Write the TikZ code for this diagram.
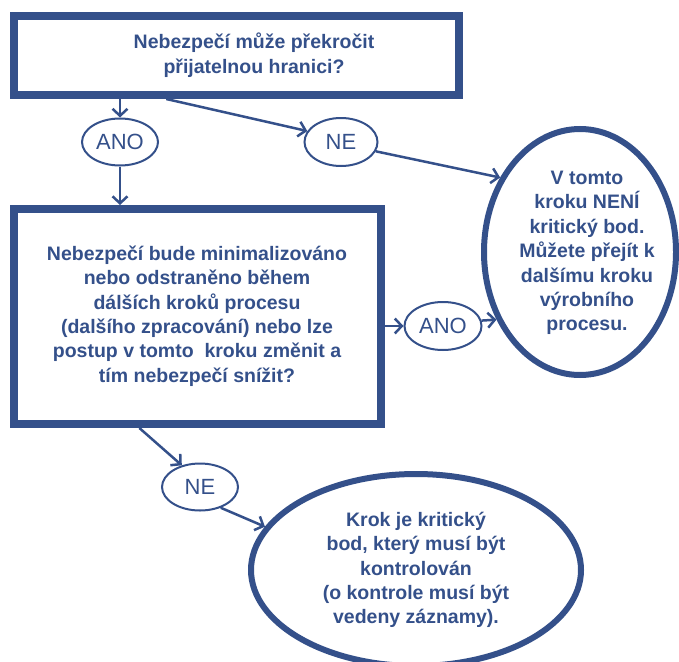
\documentclass[tikz,border=0pt]{standalone}
\usepackage{fontspec}
\setmainfont{Liberation Sans}
\usetikzlibrary{shapes.geometric,arrows.meta,calc}
\definecolor{navy}{HTML}{34508A}
\begin{document}
\begin{tikzpicture}[x=1pt,y=-1pt,
  every node/.style={text=navy,font=\bfseries\fontsize{19.5}{24.4}\selectfont,align=center},
  bigbox/.style={draw=navy,line width=8pt,inner sep=0pt},
  answer/.style={draw=navy,line width=2pt,ellipse,inner sep=0pt,font=\fontsize{22}{24}\selectfont},
  result/.style={draw=navy,line width=6pt,ellipse,inner sep=0pt},
  conn/.style={draw=navy,line width=2.5pt,-{Straight Barb[length=7pt,width=15pt,line width=2.5pt]}}]
\useasboundingbox (0,0) rectangle (679,661);
% boxes
\node[bigbox,minimum width=445pt,minimum height=79pt] (top) at (236.5,55.5) {};
\node (toptext) at (254,55) {Nebezpečí může překročit\\přijatelnou hranici?};
\node[bigbox,minimum width=367pt,minimum height=215pt] (mid) at (197.5,316.5) {};
\node (midtext) at (197,316) {Nebezpečí bude minimalizováno\\nebo odstraněno během\\dálších kroků procesu\\(dalšího zpracování) nebo lze\\postup v tomto\ \ kroku změnit a\\tím nebezpečí snížit?};
% answers
\node[answer,minimum width=76pt,minimum height=47pt] (ano1) at (120,142) {ANO};
\node[answer,minimum width=73pt,minimum height=48pt] (ne1) at (341,142) {NE};
\node[answer,minimum width=77pt,minimum height=48pt] (ano2) at (443,326) {ANO};
\node[answer,minimum width=76pt,minimum height=47pt] (ne2) at (200,487) {NE};
% results
\node[result,minimum width=192pt,minimum height=246pt] (notccp) at (580,252) {};
\node (notccptext) at (587,253) {V tomto\\kroku NENÍ\\kritický bod.\\Můžete přejít k\\dalšímu kroku\\výrobního\\procesu.};
\node[result,minimum width=330pt,minimum height=192pt] (ccp) at (416,570) {};
\node (ccptext) at (416,570) {Krok je kritický\\bod, který musí být\\kontrolován\\(o kontrole musí být\\vedeny záznamy).};
% connectors
\draw[conn] (top.south -| ano1.north) -- (ano1.north);
\draw[conn] (ano1.south) -- (mid.north -| ano1.south);
\coordinate (topne) at ($(top.south west)!0.345!(top.south east)$);
\draw[conn] (topne) -- (ne1.162);
\draw[conn] (ne1.-15) -- (notccp.137);
\draw[conn] (mid.east |- ano2.west) -- (ano2.west);
\draw[conn] (ano2.8) -- (notccp.219);
\coordinate (midne) at ($(mid.south west)!0.345!(mid.south east)$);
\draw[conn] (midne) -- (ne2.130);
\draw[conn] (ne2.-45) -- (ccp.164);
\end{tikzpicture}
\end{document}
